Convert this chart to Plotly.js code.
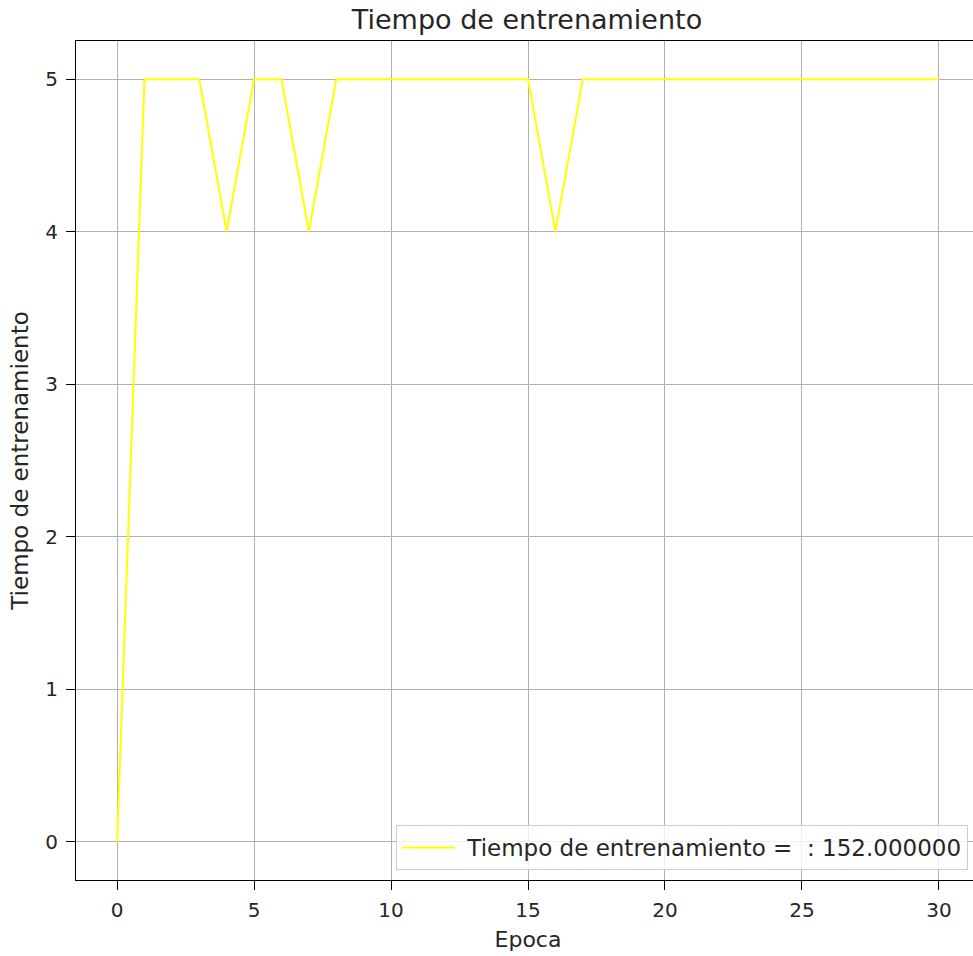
<!DOCTYPE html>
<html>
<head>
<meta charset="utf-8">
<script src="https://cdn.plot.ly/plotly-3.0.1.min.js"></script>
<style>
  html, body { margin: 0; padding: 0; overflow: hidden; background: #fff; }
  #chart { width: 1000px; height: 956px; }
</style>
</head>
<body>
<div id="chart"></div>
<script>
// Training time per epoch
const epochs = [0, 1, 2, 3, 4, 5, 6, 7, 8, 9, 10, 11, 12, 13, 14, 15, 16, 17, 18, 19, 20, 21, 22, 23, 24, 25, 26, 27, 28, 29, 30];
const trainTime = [0, 5, 5, 5, 4, 5, 5, 4, 5, 5, 5, 5, 5, 5, 5, 5, 4, 5, 5, 5, 5, 5, 5, 5, 5, 5, 5, 5, 5, 5, 5];
const xTicks = [0, 5, 10, 15, 20, 25, 30];
const yTicks = [0, 1, 2, 3, 4, 5];
const seriesName = 'Tiempo de entrenamiento =  : 152.000000';

const font = 'DejaVu Sans, sans-serif';
const ink = '#262626';

const trace = {
  x: epochs,
  y: trainTime,
  type: 'scatter',
  mode: 'lines',
  // a non-breaking space keeps a gap between the legend line and its label
  name: '\u00a0' + seriesName,
  line: { color: '#ffff00', width: 2 },
  showlegend: true
};

const axisCommon = {
  showline: true,
  linecolor: '#000',
  linewidth: 1,
  mirror: true,
  ticks: 'outside',
  ticklen: 9,
  tickwidth: 1,
  tickcolor: '#000',
  showgrid: true,
  gridcolor: '#b0b0b0',
  gridwidth: 1,
  zeroline: false,
  tickfont: { family: font, size: 20, color: ink }
};

const layout = {
  width: 1000,
  height: 956,
  margin: { l: 76, r: 20, t: 41, b: 76 },
  paper_bgcolor: '#fff',
  plot_bgcolor: '#fff',
  title: {
    text: 'Tiempo de entrenamiento',
    font: { family: font, size: 27, color: ink },
    x: 527 / 1000,
    xref: 'container',
    xanchor: 'center',
    y: 1 - 20 / 956,
    yanchor: 'middle'
  },
  xaxis: Object.assign({}, axisCommon, {
    range: [-1.5, 31.5],
    tickvals: xTicks,
    ticktext: xTicks.map(String),
    ticklabelstandoff: 3,
    title: { text: 'Epoca', font: { family: font, size: 22, color: ink }, standoff: 10 }
  }),
  yaxis: Object.assign({}, axisCommon, {
    range: [-0.25, 5.25],
    tickvals: yTicks,
    ticktext: yTicks.map(String),
    ticklabelstandoff: 4,
    title: { text: 'Tiempo de entrenamiento', font: { family: font, size: 23, color: ink }, standoff: 10 }
  }),
  legend: {
    x: (968 - 76) / 904,
    xanchor: 'right',
    y: (880 - 870) / 839,
    yanchor: 'bottom',
    bgcolor: 'rgba(255,255,255,0.8)',
    bordercolor: '#cccccc',
    borderwidth: 1,
    itemwidth: 53,
    font: { family: font, size: 23, color: ink }
  },
  showlegend: true
};

Plotly.newPlot('chart', [trace], layout, { displayModeBar: false, staticPlot: true });
</script>
</body>
</html>
